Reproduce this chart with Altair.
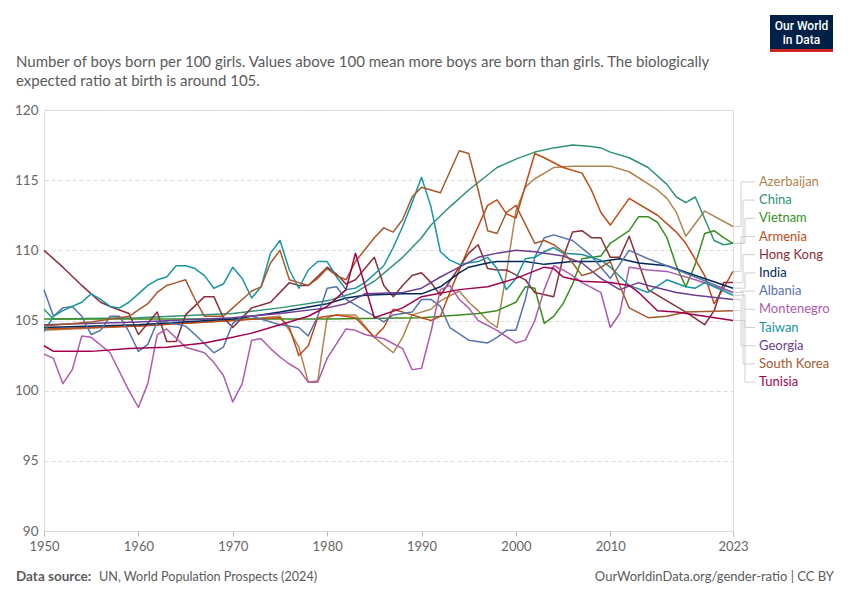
import altair as alt
import pandas as pd

countries = ["Azerbaijan", "China", "Vietnam", "Armenia", "Hong Kong", "India",
             "Albania", "Montenegro", "Taiwan", "Georgia", "South Korea", "Tunisia"]
colors = ["#b08450", "#2e9473", "#3b8e1d", "#c24a15", "#883039", "#00295b",
          "#5574ad", "#ad5cab", "#1795a0", "#6d3e91", "#a5592e", "#a3004e"]

azerbaijan_years = [1950, 1960, 1970, 1975, 1976, 1977, 1978, 1979, 1980, 1981, 1983, 1985, 1987, 1988, 1989, 1991, 1992, 1994, 1995, 1996, 1997, 1998, 1999, 2000, 2001, 2002, 2004, 2006, 2010, 2012, 2015, 2016, 2017, 2018, 2020, 2023]
azerbaijan_values = [104.3, 104.6, 105.0, 105.3, 104.3, 103.1, 100.6, 100.7, 105.2, 105.4, 105.4, 103.8, 102.7, 103.8, 105.4, 105.8, 106.4, 107.1, 106.3, 105.7, 105.0, 104.5, 108.4, 112.8, 114.5, 115.1, 115.9, 116.0, 116.0, 115.6, 114.3, 113.7, 112.7, 111.0, 112.8, 111.7]

china_years = [1950, 1951, 1960, 1970, 1975, 1980, 1983, 1985, 1988, 1990, 1991, 1993, 1995, 1998, 2000, 2002, 2004, 2006, 2008, 2009, 2010, 2012, 2014, 2016, 2017, 2018, 2019, 2021, 2022, 2023]
china_values = [105.8, 105.1, 105.2, 105.5, 105.9, 106.4, 107.0, 107.8, 109.5, 110.9, 111.8, 113.1, 114.3, 115.9, 116.5, 117.0, 117.3, 117.5, 117.4, 117.3, 117.0, 116.6, 115.9, 114.7, 113.8, 113.4, 113.8, 110.7, 110.4, 110.5]

vietnam_years = [1950, 1960, 1970, 1980, 1990, 1994, 1996, 1998, 2000, 2001, 2002, 2003, 2004, 2005, 2006, 2007, 2009, 2010, 2012, 2013, 2014, 2015, 2016, 2017, 2018, 2019, 2020, 2021, 2022, 2023]
vietnam_values = [105.1, 105.1, 105.1, 105.1, 105.2, 105.4, 105.5, 105.7, 106.3, 107.4, 107.3, 104.8, 105.3, 106.2, 107.6, 109.4, 109.6, 110.5, 111.4, 112.4, 112.4, 112.0, 110.9, 108.9, 107.4, 109.0, 111.2, 111.4, 110.9, 110.5]

armenia_years = [1950, 1960, 1970, 1975, 1976, 1977, 1978, 1979, 1981, 1983, 1985, 1986, 1987, 1989, 1991, 1992, 1993, 1995, 1997, 1998, 1999, 2000, 2002, 2003, 2005, 2007, 2008, 2009, 2010, 2012, 2015, 2017, 2018, 2020, 2021, 2022, 2023]
armenia_values = [104.4, 104.6, 105.0, 105.2, 104.5, 102.5, 103.2, 105.2, 105.4, 105.2, 103.8, 104.5, 105.8, 105.4, 105.0, 105.3, 107.0, 110.2, 113.2, 113.6, 112.6, 112.3, 116.9, 116.6, 115.9, 115.5, 114.3, 112.7, 111.8, 113.7, 112.5, 111.3, 110.5, 108.2, 106.2, 107.3, 108.5]

hongkong_years = [1950, 1952, 1954, 1955, 1956, 1957, 1959, 1960, 1962, 1963, 1964, 1965, 1967, 1968, 1969, 1970, 1972, 1974, 1976, 1977, 1978, 1980, 1981, 1982, 1983, 1985, 1986, 1987, 1988, 1989, 1990, 1991, 1992, 1995, 1996, 1997, 1998, 1999, 2001, 2002, 2004, 2005, 2006, 2007, 2008, 2009, 2010, 2011, 2012, 2014, 2016, 2018, 2020, 2021, 2022, 2023]
hongkong_values = [110.0, 108.8, 107.5, 106.9, 106.3, 106.0, 105.5, 104.0, 105.6, 103.5, 103.5, 105.4, 106.7, 106.7, 105.2, 104.5, 105.9, 106.3, 107.7, 107.5, 107.5, 108.8, 108.3, 107.6, 107.9, 109.5, 107.5, 106.7, 107.5, 108.2, 108.4, 107.7, 106.8, 109.8, 110.4, 108.7, 108.6, 108.6, 107.9, 107.0, 106.7, 109.5, 111.3, 111.4, 110.9, 110.9, 109.5, 109.5, 111.0, 107.2, 106.4, 105.6, 104.7, 105.7, 107.7, 107.7]

india_years = [1950, 1960, 1970, 1975, 1980, 1982, 1984, 1988, 1990, 1992, 1994, 1995, 1997, 1998, 2001, 2003, 2006, 2009, 2011, 2013, 2016, 2023]
india_values = [104.5, 104.7, 105.1, 105.6, 106.2, 106.6, 106.8, 106.9, 106.9, 107.4, 108.4, 108.8, 109.1, 109.2, 109.2, 109.0, 109.2, 109.2, 109.4, 109.1, 108.9, 107.3]

albania_years = [1950, 1951, 1952, 1953, 1954, 1955, 1956, 1957, 1958, 1959, 1960, 1961, 1962, 1963, 1965, 1966, 1968, 1969, 1970, 1971, 1972, 1975, 1977, 1978, 1979, 1980, 1981, 1982, 1984, 1986, 1987, 1989, 1990, 1991, 1992, 1993, 1995, 1997, 1998, 1999, 2000, 2001, 2002, 2003, 2004, 2006, 2008, 2010, 2012, 2014, 2016, 2019, 2023]
albania_values = [107.2, 105.3, 105.9, 106.0, 105.3, 104.0, 104.3, 105.3, 105.3, 104.2, 102.8, 103.3, 104.9, 104.9, 104.6, 104.0, 102.7, 103.1, 104.8, 105.3, 105.3, 104.7, 104.5, 103.9, 105.3, 107.3, 107.4, 106.5, 105.7, 104.9, 105.4, 105.6, 106.5, 106.5, 106.0, 104.5, 103.6, 103.4, 103.8, 104.3, 104.3, 106.5, 109.5, 110.9, 111.1, 110.7, 109.6, 108.0, 110.0, 109.4, 108.9, 108.1, 107.0]

montenegro_years = [1950, 1951, 1952, 1953, 1954, 1955, 1957, 1959, 1960, 1961, 1962, 1963, 1965, 1967, 1968, 1969, 1970, 1971, 1972, 1973, 1974, 1975, 1976, 1977, 1978, 1979, 1980, 1982, 1983, 1984, 1986, 1988, 1989, 1990, 1991, 1992, 1993, 1994, 1995, 1996, 1998, 2000, 2001, 2002, 2003, 2004, 2005, 2006, 2007, 2009, 2010, 2011, 2012, 2014, 2016, 2019, 2023]
montenegro_values = [102.6, 102.3, 100.5, 101.5, 103.9, 103.8, 102.7, 100.0, 98.8, 100.5, 104.0, 104.4, 103.1, 102.7, 102.0, 101.1, 99.2, 100.5, 103.6, 103.7, 103.0, 102.4, 101.9, 101.5, 100.6, 100.6, 102.3, 104.4, 104.3, 104.0, 103.7, 103.0, 101.5, 101.6, 104.2, 107.2, 107.5, 106.5, 105.9, 105.0, 104.3, 103.4, 103.6, 105.0, 107.2, 108.9, 108.6, 108.2, 107.7, 107.0, 104.5, 105.5, 108.8, 108.6, 108.5, 107.9, 107.0]

taiwan_years = [1950, 1951, 1952, 1954, 1955, 1956, 1957, 1958, 1959, 1960, 1961, 1962, 1963, 1964, 1965, 1966, 1967, 1968, 1969, 1970, 1971, 1972, 1973, 1974, 1975, 1976, 1977, 1978, 1979, 1980, 1981, 1982, 1983, 1984, 1986, 1987, 1988, 1989, 1990, 1991, 1992, 1993, 1994, 1996, 1997, 1998, 1999, 2000, 2001, 2002, 2003, 2004, 2005, 2007, 2009, 2010, 2012, 2014, 2016, 2018, 2019, 2020, 2023]
taiwan_values = [104.2, 105.3, 105.7, 106.3, 106.9, 106.5, 106.0, 105.9, 106.3, 106.9, 107.5, 107.9, 108.1, 108.9, 108.9, 108.7, 108.2, 107.3, 107.6, 108.8, 108.0, 106.6, 107.4, 109.8, 110.7, 108.6, 107.3, 108.6, 109.2, 109.2, 108.1, 107.2, 107.3, 107.7, 108.9, 110.2, 111.7, 113.4, 115.2, 113.1, 109.9, 109.3, 109.0, 109.2, 109.5, 108.7, 107.2, 108.0, 109.4, 109.5, 109.9, 110.2, 109.8, 109.7, 109.3, 108.8, 107.5, 107.0, 107.9, 107.4, 107.3, 107.7, 106.8]

georgia_years = [1950, 1960, 1970, 1975, 1980, 1982, 1984, 1988, 1990, 1992, 1994, 1996, 1998, 2000, 2002, 2005, 2007, 2009, 2011, 2013, 2014, 2017, 2019, 2023]
georgia_values = [104.7, 104.9, 105.2, 105.5, 105.9, 106.2, 106.9, 107.0, 107.3, 108.1, 108.8, 109.5, 109.8, 110.0, 109.9, 109.6, 109.1, 108.0, 107.2, 107.7, 107.5, 107.0, 106.8, 106.5]

southkorea_years = [1950, 1955, 1959, 1961, 1962, 1963, 1964, 1965, 1966, 1967, 1969, 1970, 1971, 1972, 1973, 1974, 1975, 1976, 1977, 1978, 1979, 1980, 1981, 1982, 1983, 1985, 1986, 1987, 1988, 1989, 1990, 1992, 1994, 1995, 1996, 1997, 1998, 1999, 2000, 2002, 2003, 2004, 2005, 2006, 2007, 2008, 2010, 2011, 2012, 2014, 2016, 2018, 2023]
southkorea_values = [104.6, 104.9, 105.3, 106.2, 107.0, 107.5, 107.7, 107.9, 106.5, 105.3, 105.3, 105.9, 106.5, 107.1, 107.4, 109.1, 110.0, 107.9, 107.7, 107.5, 108.0, 108.7, 108.2, 107.9, 109.2, 110.9, 111.6, 111.3, 112.2, 113.8, 114.5, 114.1, 117.1, 116.9, 114.3, 111.4, 111.2, 112.7, 113.2, 110.5, 110.7, 110.4, 109.9, 109.1, 108.2, 108.4, 109.2, 107.5, 105.9, 105.2, 105.3, 105.6, 105.7]

tunisia_years = [1950, 1951, 1955, 1959, 1963, 1967, 1970, 1972, 1975, 1978, 1980, 1982, 1983, 1985, 1988, 1990, 1994, 1997, 2000, 2003, 2004, 2005, 2007, 2010, 2012, 2013, 2015, 2017, 2020, 2023]
tunisia_values = [103.2, 102.8, 102.8, 103.0, 103.1, 103.4, 103.8, 104.1, 104.7, 105.3, 106.0, 107.2, 109.8, 105.2, 105.9, 106.7, 107.2, 107.4, 108.0, 108.8, 108.7, 108.1, 107.8, 107.7, 107.5, 107.0, 105.7, 105.6, 105.3, 105.0]

series = {
    "Azerbaijan": (azerbaijan_years, azerbaijan_values),
    "China": (china_years, china_values),
    "Vietnam": (vietnam_years, vietnam_values),
    "Armenia": (armenia_years, armenia_values),
    "Hong Kong": (hongkong_years, hongkong_values),
    "India": (india_years, india_values),
    "Albania": (albania_years, albania_values),
    "Montenegro": (montenegro_years, montenegro_values),
    "Taiwan": (taiwan_years, taiwan_values),
    "Georgia": (georgia_years, georgia_values),
    "South Korea": (southkorea_years, southkorea_values),
    "Tunisia": (tunisia_years, tunisia_values),
}

y_ticks = [90, 95, 100, 105, 110, 115, 120]
x_ticks = [1950, 1960, 1970, 1980, 1990, 2000, 2010, 2023]

subtitle_lines = ["Number of boys born per 100 girls. Values above 100 mean more boys are born than girls. The biologically",
                  "expected ratio at birth is around 105."]
source_label = "Data source:"
source_text = "UN, World Population Prospects (2024)"
url_text = "OurWorldinData.org/gender-ratio | CC BY"

W, H = 689, 421
Y0, Y1 = 90, 120
FONT = "Lato"

rows = []
for c in countries:
    ys, vs = series[c]
    for yr, v in zip(ys, vs):
        rows.append({"country": c, "year": yr, "value": v})
df = pd.DataFrame(rows)

color_scale = alt.Scale(domain=countries, range=colors)

lines = alt.Chart(df).mark_line(strokeWidth=1.5, strokeJoin="round").encode(
    x=alt.X("year:Q", scale=alt.Scale(domain=[1950, 2023], nice=False, zero=False),
            axis=alt.Axis(values=x_ticks, format="d", title=None, grid=False, domain=False,
                          ticks=True, tickSize=5, tickColor="#bbb", labelPadding=4,
                          labelFont=FONT, labelFontSize=13, labelColor="#666",
                          labelFlush=False)),
    y=alt.Y("value:Q", scale=alt.Scale(domain=[Y0, Y1], nice=False, zero=False),
            axis=alt.Axis(values=y_ticks, title=None, grid=True, gridColor="#dadada",
                          gridDash=[4, 3], domain=False, ticks=False, labelPadding=6,
                          labelFont=FONT, labelFontSize=13.5, labelColor="#666")),
    color=alt.Color("country:N", scale=color_scale, legend=None),
    detail="country:N",
)

# legend labels placed to the right, spread around centre of line ends
ends = []
for c in countries:
    ys, vs = series[c]
    ends.append((Y1 - vs[-1]) / (Y1 - Y0) * H)
spacing = 18.2
mean_end = sum(ends) / len(ends)
n = len(countries)
label_y = [mean_end + 1.5 + (i - (n - 1) / 2) * spacing for i in range(n)]

conn_rows = []
lab_rows = []
for i, c in enumerate(countries):
    xm = W + 8 + (i % 3) * 2
    pts = [(W + 1, ends[i]), (xm, ends[i]), (xm, label_y[i]), (W + 22, label_y[i])]
    for k, (px, py) in enumerate(pts):
        conn_rows.append({"country": c, "k": k, "px": px, "py": py})
    lab_rows.append({"country": c, "px": W + 26, "py": label_y[i]})
conn_df = pd.DataFrame(conn_rows)
lab_df = pd.DataFrame(lab_rows)

connectors = alt.Chart(conn_df).mark_line(strokeWidth=1, color="#cfcfcf").encode(
    x=alt.X("px:Q", scale=None, axis=None),
    y=alt.Y("py:Q", scale=None, axis=None),
    detail="country:N",
    order="k:Q",
)

labels = alt.Chart(lab_df).mark_text(align="left", baseline="middle", font=FONT, fontSize=13).encode(
    x=alt.X("px:Q", scale=None, axis=None),
    y=alt.Y("py:Q", scale=None, axis=None),
    text="country:N",
    color=alt.Color("country:N", scale=color_scale, legend=None),
)

sub_df = pd.DataFrame({"t": subtitle_lines, "py": [-48, -29]})
subtitle = alt.Chart(sub_df).mark_text(align="left", baseline="middle", font=FONT,
                                       fontSize=15, color="#5b5b5b").encode(
    x=alt.value(-28), y=alt.Y("py:Q", scale=None, axis=None), text="t:N")

src_bold = alt.Chart(pd.DataFrame({"t": [source_label]})).mark_text(
    align="left", baseline="middle", font=FONT, fontSize=13.5, fontWeight="bold", color="#5b5b5b"
).encode(x=alt.value(-28), y=alt.value(467), text="t:N")
src_txt = alt.Chart(pd.DataFrame({"t": [source_text]})).mark_text(
    align="left", baseline="middle", font=FONT, fontSize=12.6, color="#5b5b5b"
).encode(x=alt.value(55), y=alt.value(467), text="t:N")
url = alt.Chart(pd.DataFrame({"t": [url_text]})).mark_text(
    align="right", baseline="middle", font=FONT, fontSize=13, color="#5b5b5b"
).encode(x=alt.value(790), y=alt.value(467), text="t:N")

# logo
logo_bg = alt.Chart(pd.DataFrame({"a": [0]})).mark_rect(color="#002147").encode(
    x=alt.value(726), x2=alt.value(789), y=alt.value(-95), y2=alt.value(-61))
logo_bar = alt.Chart(pd.DataFrame({"a": [0]})).mark_rect(color="#ce261e").encode(
    x=alt.value(726), x2=alt.value(789), y=alt.value(-61), y2=alt.value(-58))
logo_txt = alt.Chart(pd.DataFrame({"t": ["Our World", "in Data"], "py": [-84, -70]})).mark_text(
    align="center", baseline="middle", font="Roboto", fontSize=12, fontWeight=500, color="white"
).encode(x=alt.value(757.5), y=alt.Y("py:Q", scale=None, axis=None), text="t:N")

chart = alt.layer(
    lines, connectors, labels, subtitle, src_bold, src_txt, url, logo_bg, logo_bar, logo_txt
).resolve_scale(x="independent", y="independent", color="shared").properties(
    width=W, height=H,
    autosize="none",
    padding={"left": 36, "top": 102, "right": 109, "bottom": 61},
).configure_view(stroke=None).configure(background="white")

chart.save("out.html", embed_options={"renderer": "svg", "actions": False})
